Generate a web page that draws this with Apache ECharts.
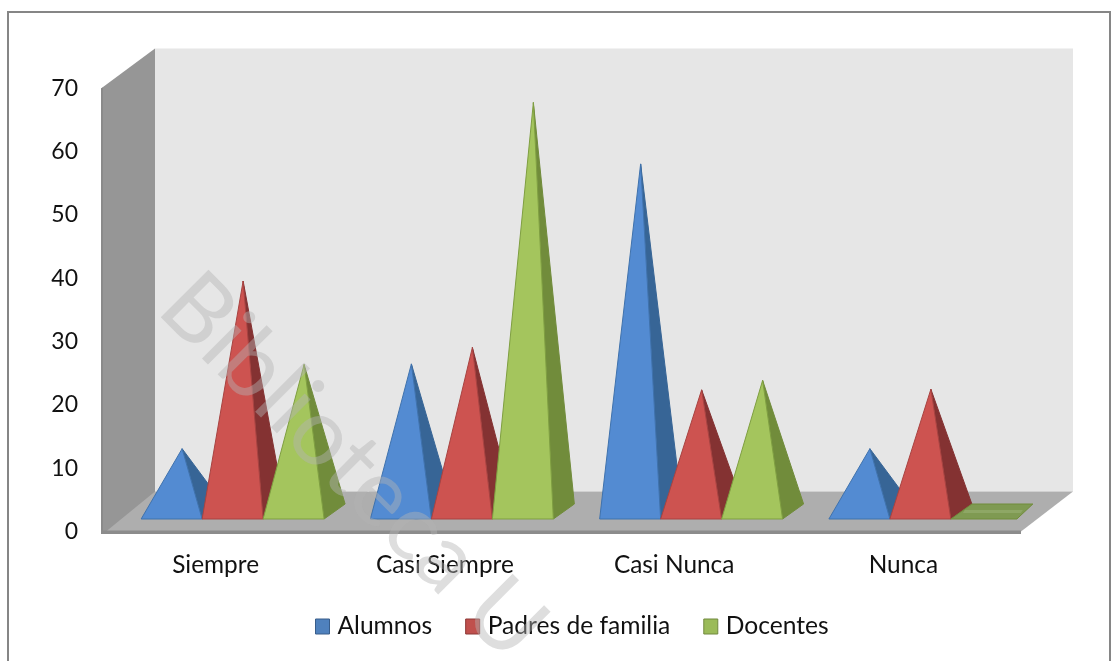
<!DOCTYPE html>
<html>
<head>
<meta charset="utf-8">
<style>html,body{margin:0;padding:0;background:#fff}#c{width:1119px;height:661px}</style>
<script src="https://cdn.jsdelivr.net/npm/echarts@6/dist/echarts.min.js"></script>
</head>
<body>
<div id="c"></div>
<script>
const categories = ['Siempre', 'Casi Siempre', 'Casi Nunca', 'Nunca'];
const alumnos = [10, 23.4, 55, 10];
const padres = [36.5, 26, 19.3, 19.4];
const docentes = [23.3, 64.7, 20.8, 0];
const seriesNames = ['Alumnos', 'Padres de familia', 'Docentes'];
const legendColors = ['#4f81bd', '#c0504d', '#9bbb59'];
const legendBorders = ['#385d8a', '#8c3836', '#71893f'];
const frontColors = ['#538bd2', '#cd5350', '#a4c55d'];
const sideColors = ['#376596', '#843232', '#718c3b'];
const edgeColors = ['#3f72ad', '#a84341', '#7f9f41'];

const chart = echarts.init(document.getElementById('c'), null, {renderer: 'canvas'});

function poly(points, fill, stroke) {
  return {type: 'polygon', shape: {points}, style: {fill, stroke: stroke || fill, lineWidth: stroke ? 1 : 0}};
}

function renderFrame(params) {
  const c = params.coordSys;
  const L = c.x, R = c.x + 920, T = c.y, B = c.y + c.height;
  const dx = 54, dy = -40;
  return {type: 'group', silent: true, children: [
    poly([[L + dx, T + dy], [R + dx - 2, T + dy], [R + dx - 2, B + dy], [L + dx, B + dy]], '#e6e6e6'),
    poly([[L, T], [L + dx, T + dy], [L + dx, B + dy + 2], [L + 4, B + 2], [L, B + 2]], '#969696'),
    poly([[L, T], [L + 2, T - 1], [L + 2, B + 2], [L, B + 2]], '#8a8a8a'),
    poly([[L + dx, B + dy], [R + dx - 2, B + dy], [R, B], [L + 5, B]], '#aeaeae'),
    poly([[L, B - 1], [R, B - 1], [R, B + 2.5], [L, B + 2.5]], '#8c8c8c')
  ]};
}

function pyramidRenderer(idx) {
  return function (params, api) {
    const band = api.size([1, 0])[0];
    const cat = api.value(0), val = api.value(1);
    const w = band * 61 / 229.3;
    const zero = api.coord([cat, 0]);
    const top = api.coord([cat, val]);
    const left = zero[0] + 17 + (idx - 1.5) * w;
    const fy = zero[1] - 12.5;
    const rx = left + w;
    const ax = left + w / 2 + 10.5;
    const ay = top[1] - 19.5;
    const bx = 21, by = -15;
    const children = [];
    if (val === 0) {
      children.push(poly([[left, fy], [rx + 5, fy], [rx + bx, fy + by], [left + bx, fy + by]], '#7f9a52', sideColors[idx]));
      children.push(poly([[left + 12, fy - 6], [rx + 9, fy - 6], [rx + 11, fy - 9], [left + 14, fy - 9]], '#8ea765'));
    } else {
      children.push(poly([[rx, fy], [rx + bx, fy + by], [ax, ay]], sideColors[idx], sideColors[idx]));
      children.push(poly([[left, fy], [rx, fy], [ax, ay]], frontColors[idx], edgeColors[idx]));
    }
    return {type: 'group', silent: true, children};
  };
}

const rows = [alumnos, padres, docentes];
const pyramidSeries = rows.map((vals, i) => ({
  type: 'custom',
  name: seriesNames[i],
  clip: false,
  silent: true,
  z: 3,
  itemStyle: {color: legendColors[i]},
  renderItem: pyramidRenderer(i),
  data: vals.map((v, k) => [k, v])
}));

chart.setOption({
  animation: false,
  textStyle: {fontFamily: 'Lato'},
  grid: {left: 101, top: 88.5, width: 917, height: 443},
  xAxis: {
    type: 'category', data: categories,
    axisLine: {show: false}, axisTick: {show: false}, splitLine: {show: false},
    axisLabel: {fontFamily: 'Lato', fontSize: 24.4, color: '#111', margin: 22, interval: 0}
  },
  yAxis: {
    type: 'value', min: 0, max: 70, interval: 10,
    axisLine: {show: false}, axisTick: {show: false}, splitLine: {show: false},
    axisLabel: {fontFamily: 'Lato', fontSize: 23, color: '#111', margin: 23, padding: [4, 0, 0, 0]}
  },
  legend: {
    left: 315, top: 614, padding: 0, itemWidth: 14, itemHeight: 15, itemGap: 33,
    icon: 'rect', selectedMode: false,
    textStyle: {fontFamily: 'Lato', fontSize: 24.6, color: '#111', padding: [0, 0, 0, 3]},
    data: seriesNames.map((n, i) => ({name: n, itemStyle: {color: legendColors[i], borderColor: legendBorders[i], borderWidth: 1}}))
  },
  graphic: [
    {type: 'rect', silent: true, z: -1, shape: {x: 8, y: 12, width: 1102, height: 700},
      style: {fill: '#fff', stroke: '#868686', lineWidth: 2}},
    {type: 'text', silent: true, z: 100, x: 143, y: 323, rotation: -Math.PI / 4,
      style: {text: 'Biblioteca U', fontFamily: 'Lato', fontWeight: 400, fontSize: 94,
        fill: 'rgba(180,180,180,0.44)', align: 'left', verticalAlign: 'bottom'}}
  ],
  series: [{type: 'custom', name: 'frame', silent: true, clip: false, z: 1, renderItem: renderFrame, data: [[0, 0]]}].concat(pyramidSeries)
});
</script>
</body>
</html>
